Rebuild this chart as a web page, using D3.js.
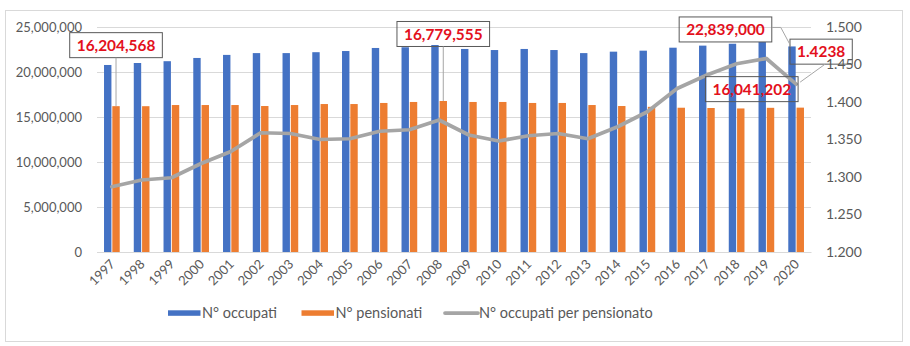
<!DOCTYPE html>
<html>
<head>
<meta charset="utf-8">
<script src="https://cdn.jsdelivr.net/npm/d3@7"></script>
<style>
  html, body { margin: 0; padding: 0; background: #fff; }
  svg { display: block; font-family: Lato, "Open Sans", sans-serif; }
</style>
</head>
<body>
<svg id="chart" width="910" height="346"></svg>
<script>
// Anni
const years = ["1997","1998","1999","2000","2001","2002","2003","2004","2005","2006","2007","2008",
               "2009","2010","2011","2012","2013","2014","2015","2016","2017","2018","2019","2020"];

// N° occupati
const occupati = [20780000, 21000000, 21200000, 21560000, 21900000, 22100000, 22100000, 22200000,
                  22330000, 22670000, 22750000, 23000000, 22560000, 22440000, 22560000, 22440000,
                  22100000, 22260000, 22370000, 22700000, 22930000, 23140000, 23330000, 22839000];

// N° pensionati
const pensionati = [16204568, 16200000, 16330000, 16330000, 16330000, 16220000, 16330000, 16440000,
                    16440000, 16560000, 16670000, 16779555, 16670000, 16670000, 16560000, 16560000,
                    16330000, 16220000, 16130000, 16030000, 16000000, 15950000, 16020000, 16041202];

// N° occupati per pensionato
const rapporto = [1.287, 1.296, 1.299, 1.318, 1.334, 1.359, 1.358, 1.350, 1.351, 1.361, 1.363, 1.376,
                  1.356, 1.348, 1.355, 1.358, 1.351, 1.367, 1.387, 1.418, 1.436, 1.451, 1.458, 1.4238];

// Tick values of the two value axes
const leftTicks = [0, 5000000, 10000000, 15000000, 20000000, 25000000];
const rightTicks = [1.2, 1.25, 1.3, 1.35, 1.4, 1.45, 1.5];

const seriesNames = ["N° occupati", "N° pensionati", "N° occupati per pensionato"];
const colors = { occ: "#4472C4", pen: "#ED7D31", rat: "#A5A5A5" };

const svg = d3.select("#chart");
const W = 910, H = 346;
const plot = { left: 97, right: 811, top: 27, bottom: 252 };

// Outer chart frame
svg.append("rect")
  .attr("x", 5.5).attr("y", 10.5).attr("width", 897).attr("height", 331)
  .attr("fill", "#fff").attr("stroke", "#D9D9D9").attr("stroke-width", 1);

const x = d3.scaleBand().domain(years).range([plot.left, plot.right]);
const yL = d3.scaleLinear().domain([0, 25000000]).range([plot.bottom, plot.top]);
const yR = d3.scaleLinear().domain([1.2, 1.5]).range([plot.bottom, plot.top]);

const fmtInt = d3.format(",");
const fmtR = d3.format(".3f");

// Gridlines + left axis labels
const gLeft = svg.append("g")
  .attr("transform", `translate(${plot.left},0)`)
  .call(d3.axisLeft(yL).tickValues(leftTicks).tickFormat(fmtInt)
        .tickSize(-(plot.right - plot.left)).tickPadding(15));
gLeft.select(".domain").remove();
gLeft.selectAll(".tick line").attr("stroke", "#D9D9D9").attr("stroke-width", 1);
gLeft.selectAll(".tick text").attr("fill", "#595959").attr("font-size", "13px")
  .attr("font-family", "Lato");

// Right axis labels
const gRight = svg.append("g")
  .attr("transform", `translate(${plot.right},0)`)
  .call(d3.axisRight(yR).tickValues(rightTicks).tickFormat(fmtR).tickSize(0).tickPadding(15));
gRight.select(".domain").remove();
gRight.selectAll(".tick text").attr("fill", "#595959").attr("font-size", "14px")
  .attr("font-family", "Lato");

// Category axis
const gX = svg.append("g")
  .attr("transform", `translate(0,${plot.bottom})`)
  .call(d3.axisBottom(x).tickSize(0).tickPadding(0));
gX.select(".domain").attr("stroke", "#D9D9D9").attr("stroke-width", 1);
gX.selectAll(".tick text")
  .attr("fill", "#595959").attr("font-size", "13px").attr("font-family", "Lato")
  .attr("text-anchor", "end").attr("dy", 0).attr("y", 0)
  .attr("transform", "translate(4,13) rotate(-45)");

// Bars
const barW = 7.4, gap = 0.9;
const blueX = d => x(d) + x.bandwidth() / 2 - gap / 2 - barW;
const orangeX = d => x(d) + x.bandwidth() / 2 + gap / 2;

svg.append("g").selectAll("rect").data(years).join("rect")
  .attr("x", d => blueX(d))
  .attr("y", (d, i) => yL(occupati[i]))
  .attr("width", barW)
  .attr("height", (d, i) => yL(0) - yL(occupati[i]))
  .attr("fill", colors.occ);

svg.append("g").selectAll("rect").data(years).join("rect")
  .attr("x", d => orangeX(d))
  .attr("y", (d, i) => yL(pensionati[i]))
  .attr("width", barW)
  .attr("height", (d, i) => yL(0) - yL(pensionati[i]))
  .attr("fill", colors.pen);

// Ratio line on secondary axis
const line = d3.line()
  .x((d, i) => x(years[i]) + x.bandwidth() / 2)
  .y(d => yR(d));
svg.append("path").datum(rapporto)
  .attr("d", line)
  .attr("fill", "none").attr("stroke", colors.rat).attr("stroke-width", 3.75)
  .attr("stroke-linejoin", "round").attr("stroke-linecap", "round");

// Data callouts: text, anchor point of the mark, box centre offset, leader path
const gAnn = svg.append("g");
function callout(text, ax, ay, dx, dy, leader) {
  const cx = ax + dx, cy = ay + dy;
  const t = gAnn.append("text")
    .attr("x", cx).attr("y", cy).attr("dy", "0.36em")
    .attr("text-anchor", "middle")
    .attr("font-family", "Lato").attr("font-weight", "bold").attr("font-size", "15.4px")
    .attr("fill", "#E3101C")
    .text(text);
  const w = t.node().getComputedTextLength() + 14, h = 25;
  gAnn.insert("rect", "text")
    .attr("x", cx - w / 2).attr("y", cy - h / 2).attr("width", w).attr("height", h)
    .attr("fill", "none").attr("stroke", "#595959").attr("stroke-width", 1);
  if (leader) {
    const pts = leader({ cx, cy, w, h, ax, ay });
    gAnn.append("path")
      .attr("d", d3.line()(pts))
      .attr("fill", "none").attr("stroke", "#A6A6A6").attr("stroke-width", 1);
  }
}

const orangeMid = i => orangeX(years[i]) + barW / 2;
const blueMid = i => blueX(years[i]) + barW / 2;
const ptX = i => x(years[i]) + x.bandwidth() / 2;
const last = years.length - 1;

// N° pensionati 1997
callout(fmtInt(pensionati[0]), orangeMid(0), yL(pensionati[0]), 0, -61,
  p => [[p.ax, p.cy + p.h / 2], [p.ax, p.ay]]);
// N° pensionati 2008
callout(fmtInt(pensionati[11]), orangeMid(11), yL(pensionati[11]), 0, -67,
  p => [[p.ax, p.cy + p.h / 2], [p.ax, p.ay]]);
// N° occupati 2020
callout(fmtInt(occupati[last]), blueMid(last), yL(occupati[last]), -66.5, -17,
  p => [[p.cx + p.w / 2, p.cy - 2], [p.cx + p.w / 2 + 9, p.cy - 2], [p.ax - 1, p.ay]]);
// N° occupati per pensionato 2020
callout(d3.format(".4f")(rapporto[last]), ptX(last), yR(rapporto[last]), 25, -32.5,
  p => [[p.cx + 4, p.cy + p.h / 2], [p.ax + 4, p.ay - 2]]);
// N° pensionati 2020
callout(fmtInt(pensionati[last]), orangeMid(last), yL(pensionati[last]), -48.5, -18.5, null);

// Legend
const legY = 313;
const gLeg = svg.append("g").attr("font-family", "Lato").attr("font-size", "14.5px").attr("fill", "#595959");
const legItems = [
  { name: seriesNames[0], type: "bar", color: colors.occ, x: 168 },
  { name: seriesNames[1], type: "bar", color: colors.pen, x: 301.5 },
  { name: seriesNames[2], type: "line", color: colors.rat, x: 445 }
];
legItems.forEach(it => {
  if (it.type === "bar") {
    gLeg.append("rect").attr("x", it.x).attr("y", legY - 2.7).attr("width", 32.5).attr("height", 5.5)
      .attr("fill", it.color);
  } else {
    gLeg.append("line").attr("x1", it.x).attr("x2", it.x + 33).attr("y1", legY).attr("y2", legY)
      .attr("stroke", it.color).attr("stroke-width", 3.75).attr("stroke-linecap", "round");
  }
  gLeg.append("text").attr("x", it.x + 34).attr("y", legY).attr("dy", "0.36em").text(it.name);
});
</script>
</body>
</html>
